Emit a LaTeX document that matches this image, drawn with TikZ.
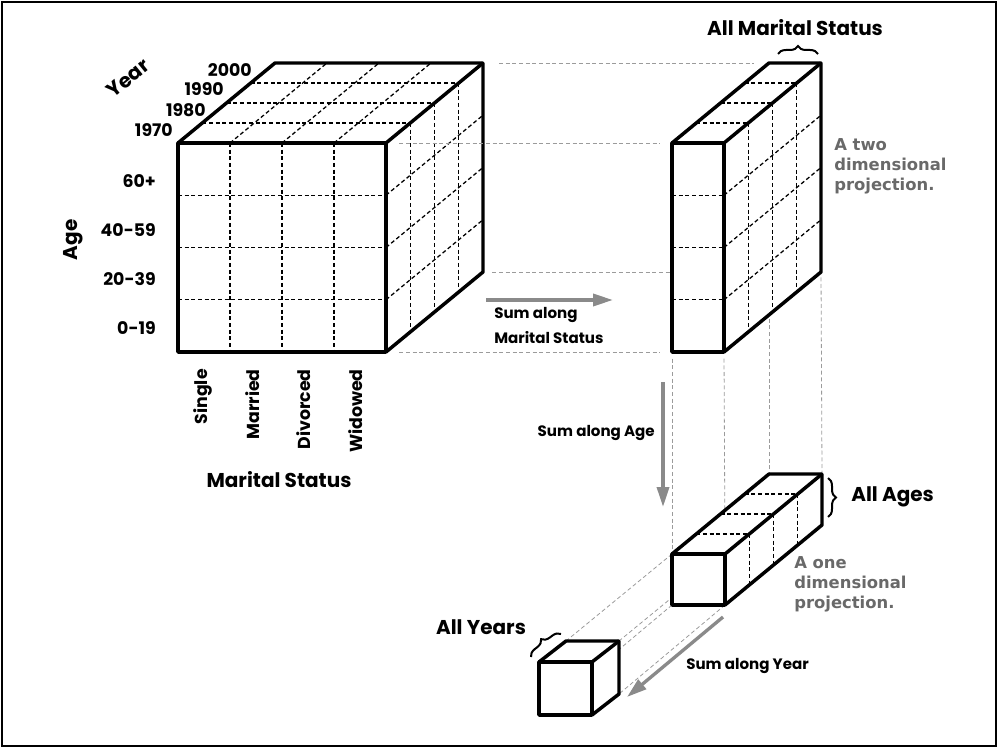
\documentclass[tikz,border=0pt]{standalone}
\usepackage{fontspec}
\setmainfont{Poppins}
\newfontfamily\notefont{DejaVu Sans}
\usetikzlibrary{arrows.meta,decorations.pathreplacing}

\definecolor{sumgray}{RGB}{138,138,138}
\definecolor{notegray}{RGB}{105,105,105}
\definecolor{guidegray}{RGB}{155,155,155}

\tikzset{
  boxline/.style={line width=2.6pt, line join=round},
  cellline/.style={line width=0.95pt, dash pattern=on 3pt off 2pt},
  guideline/.style={guidegray, line width=0.6pt, dash pattern=on 3pt off 2pt},
  sumarrow/.style={sumgray, line width=2.5pt, -{Triangle[length=15pt,width=9pt]}},
  bracemark/.style={line width=1.5pt, decorate, decoration={brace, amplitude=6pt}},
  axislabel/.style={inner sep=0.75pt, font=\fontsize{15}{18}\selectfont\bfseries},
  ticklabel/.style={inner sep=0.75pt, font=\fontsize{13}{15}\selectfont\bfseries},
  sumlabel/.style={inner sep=0.75pt, align=left, font=\fontsize{11.3}{18.5}\selectfont\bfseries},
  notelabel/.style={inner sep=0.75pt, align=left, text=notegray, font=\notefont\fontsize{12.3}{15}\selectfont\bfseries}
}

\begin{document}
\begin{tikzpicture}[x=0.75pt,y=0.75pt,yscale=-1,xscale=1]
\useasboundingbox (0,0) rectangle (998,748);

%Shape: Frame
\draw [line width=1.8pt] (2,2) rectangle (996,746);

% corners: data cube
\coordinate (cFTL) at (178,143); \coordinate (cFTR) at (386,143);
\coordinate (cFBL) at (178,352); \coordinate (cFBR) at (386,352);
\coordinate (cBTL) at (275,63);  \coordinate (cBTR) at (483,63);
\coordinate (cBBR) at (483,272);
% corners: two dimensional slab
\coordinate (sFTL) at (672,143); \coordinate (sFTR) at (724,143);
\coordinate (sFBL) at (672,352); \coordinate (sFBR) at (724,352);
\coordinate (sBTL) at (769,63);  \coordinate (sBTR) at (821,63);
\coordinate (sBBL) at (769,272); \coordinate (sBBR) at (821,272);
% corners: one dimensional bar
\coordinate (bFTL) at (672,554); \coordinate (bFTR) at (725,554);
\coordinate (bFBL) at (672,605); \coordinate (bFBR) at (725,605);
\coordinate (bBTL) at (769,474); \coordinate (bBTR) at (822,474);
\coordinate (bBBR) at (822,525);
% corners: total cell
\coordinate (kFTL) at (539,662); \coordinate (kFTR) at (592,662);
\coordinate (kFBL) at (539,715); \coordinate (kFBR) at (592,715);
\coordinate (kBTL) at (566,641); \coordinate (kBTR) at (619,641);
\coordinate (kBBL) at (566,694); \coordinate (kBBR) at (619,694);

%Shape: Data cube
\fill [white] (cFTL) -- (cBTL) -- (cBTR) -- (cBBR) -- (cFBR) -- (cFBL) -- cycle;
\foreach \i in {1,2,3} {
  \draw [cellline] (178+52*\i,143) -- (178+52*\i,352);
  \draw [cellline] (178,143+52.25*\i) -- (386,143+52.25*\i);
  \draw [cellline] (178+52*\i,143) -- ++(97,-80);
  \draw [cellline] (178+24.25*\i,143-20*\i) -- ++(208,0);
  \draw [cellline] (386,143+52.25*\i) -- ++(97,-80);
  \draw [cellline] (386+24.25*\i,143-20*\i) -- ++(0,209);
}
\draw [boxline] (cFTL) rectangle (cFBR);
\draw [boxline] (cFTL) -- (cBTL) -- (cBTR) -- (cBBR) -- (cFBR);
\draw [boxline] (cFTR) -- (cBTR);

% guides between the projections
\draw [guideline, shorten <=12pt, shorten >=11pt] (cBTR) -- (sBTL);
\draw [guideline, shorten <=10pt, shorten >=9pt] (cFTR) -- (sFTL);
\draw [guideline, shorten <=7pt] (cBBR) -- (sBBL);
\draw [guideline, shorten <=10pt, shorten >=9pt] (cFBR) -- (sFBL);
\draw [guideline, shorten <=5pt] (sFBL) -- (bFTL);
\draw [guideline, shorten <=5pt] (sFBR) -- (bFTR);
\draw [guideline] (sBBL) -- (bBTL);
\draw [guideline, shorten <=4pt] (sBBR) -- (bBTR);
\draw [guideline] (bFTL) -- (kBTL);
\draw [guideline] (bFTR) -- (kBTR);
\draw [guideline] (bFBL) -- (kBBL);
\draw [guideline] (bFBR) -- (kBBR);

%Shape: Two dimensional slab
\fill [white] (sFTL) -- (sBTL) -- (sBTR) -- (sBBR) -- (sFBR) -- (sFBL) -- cycle;
\foreach \i in {1,2,3} {
  \draw [cellline] (672,143+52.25*\i) -- ++(52,0);
  \draw [cellline] (672+24.25*\i,143-20*\i) -- ++(52,0);
  \draw [cellline] (724,143+52.25*\i) -- ++(97,-80);
  \draw [cellline] (724+24.25*\i,143-20*\i) -- ++(0,209);
}
\draw [boxline] (sFTL) rectangle (sFBR);
\draw [boxline] (sFTL) -- (sBTL) -- (sBTR) -- (sBBR) -- (sFBR);
\draw [boxline] (sFTR) -- (sBTR);

%Shape: One dimensional bar
\fill [white] (bFTL) -- (bBTL) -- (bBTR) -- (bBBR) -- (bFBR) -- (bFBL) -- cycle;
\foreach \i in {1,2,3} {
  \draw [cellline] (672+24.25*\i,554-20*\i) -- ++(53,0);
  \draw [cellline] (725+24.25*\i,554-20*\i) -- ++(0,51);
}
\draw [boxline] (bFTL) rectangle (bFBR);
\draw [boxline] (bFTL) -- (bBTL) -- (bBTR) -- (bBBR) -- (bFBR);
\draw [boxline] (bFTR) -- (bBTR);

%Shape: Total cell
\fill [white] (kFTL) -- (kBTL) -- (kBTR) -- (kBBR) -- (kFBR) -- (kFBL) -- cycle;
\draw [boxline] (kFTL) rectangle (kFBR);
\draw [boxline] (kFTL) -- (kBTL) -- (kBTR) -- (kBBR) -- (kFBR);
\draw [boxline] (kFTR) -- (kBTR);

% sum arrows
\coordinate (msFrom) at (486,300); \coordinate (msTo) at (613,300);
\coordinate (ageFrom) at (663,382); \coordinate (ageTo) at (663,507);
\coordinate (yrFrom) at (723,617); \coordinate (yrTo) at (627,697);
\draw [sumarrow] (msFrom) -- (msTo);
\draw [sumarrow] (ageFrom) -- (ageTo);
\draw [sumarrow] (yrFrom) -- (yrTo);

% braces
\draw [bracemark] (778,54) -- (818,54);
\draw [bracemark] (828,478) -- (828,517);
\draw [bracemark] (531,657) -- (561,634);

% Text Node: axes
\draw (128,78) node (yearTitle) [axislabel, rotate=39] {Year};
\draw (73,240) node (ageTitle) [axislabel, rotate=90] {Age};
\draw (279,480) node (msTitle) [axislabel] {Marital Status};
% Text Node: years
\draw (253,70) node (yr2000) [ticklabel, anchor=east] {2000};
\draw (225,89) node (yr1990) [ticklabel, anchor=east] {1990};
\draw (207,110) node (yr1980) [ticklabel, anchor=east] {1980};
\draw (174,130) node (yr1970) [ticklabel, anchor=east] {1970};
% Text Node: ages
\draw (157,181) node (age60) [ticklabel, anchor=east] {60+};
\draw (157,230) node (age40) [ticklabel, anchor=east] {40-59};
\draw (157,279) node (age20) [ticklabel, anchor=east] {20-39};
\draw (157,328) node (age0) [ticklabel, anchor=east] {0-19};
% Text Node: marital status
\draw (203,368) node (msSingle) [ticklabel, rotate=90, anchor=east] {Single};
\draw (253,368) node (msMarried) [ticklabel, rotate=90, anchor=east] {Married};
\draw (304,368) node (msDivorced) [ticklabel, rotate=90, anchor=east] {Divorced};
\draw (356,368) node (msWidowed) [ticklabel, rotate=90, anchor=east] {Widowed};
% Text Node: projections
\draw (795,28) node (allMs) [axislabel] {All Marital Status};
\draw (850,497) node (allAges) [axislabel, anchor=west] {All Ages};
\draw (481,627) node (allYears) [axislabel] {All Years};
\draw (833,137) node (twoDim) [notelabel, anchor=north west] {A two\\dimensional\\projection.};
\draw (793,555) node (oneDim) [notelabel, anchor=north west] {A one\\dimensional\\projection.};
% Text Node: sums
\draw (493,306) node (sumMs) [sumlabel, anchor=north west] {Sum along\\Marital Status};
\draw (656,433) node (sumAge) [sumlabel, anchor=east] {Sum along Age};
\draw (685,666) node (sumYear) [sumlabel, anchor=west] {Sum along Year};

\end{tikzpicture}
\end{document}
